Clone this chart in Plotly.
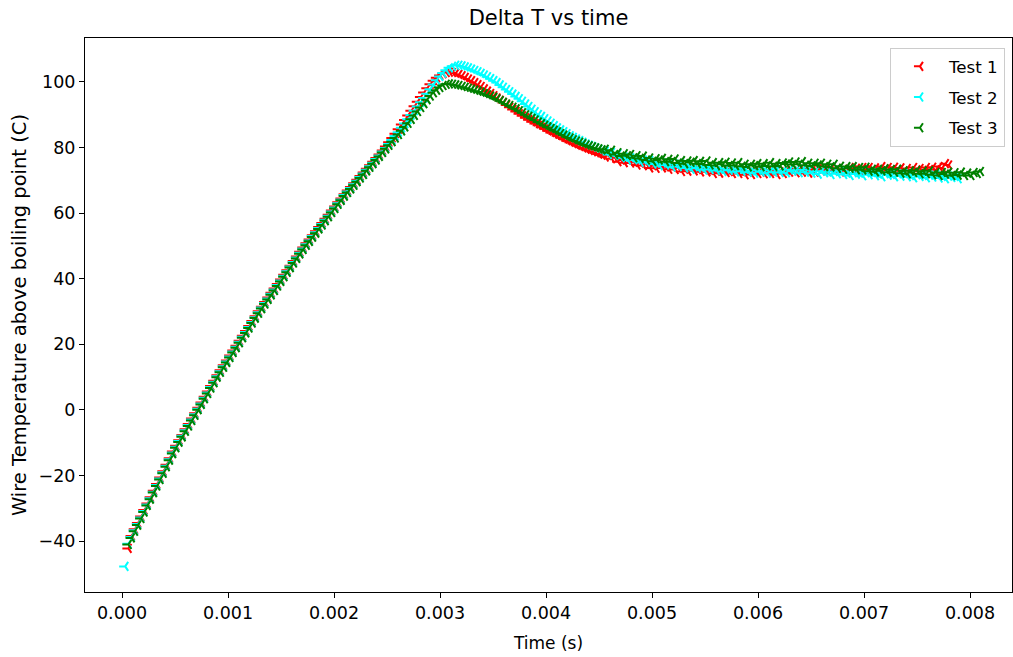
import plotly.graph_objects as go

# ---- data ----
SAMPLE_DT = 0.00003          # s between samples
T1_START = 0.00006           # first sample time, Test 1
T2_START = 0.00003           # first sample time, Test 2
T3_START = 0.00006           # first sample time, Test 3

test1 = [
    -42.2, -38.4, -36.4, -34.5, -32.5, -30.5, -28.5, -26.6, -24.6, -22.6,
    -20.6, -18.7, -16.7, -14.7, -12.7, -10.9, -9.2, -7.6, -5.9, -4.3,
    -2.6, -1.0, 0.7, 2.3, 4.0, 5.6, 7.3, 8.9, 10.6, 12.1,
    13.6, 15.1, 16.6, 18.1, 19.6, 21.1, 22.6, 24.1, 25.6, 27.1,
    28.6, 30.1, 31.5, 32.9, 34.3, 35.7, 37.0, 38.4, 39.8, 41.2,
    42.6, 44.0, 45.4, 46.8, 48.2, 49.5, 50.8, 52.0, 53.3, 54.5,
    55.8, 57.0, 58.3, 59.5, 60.8, 62.0, 63.3, 64.5, 65.8, 66.9,
    68.0, 69.1, 70.2, 71.3, 72.4, 73.5, 74.6, 75.7, 76.8, 77.9,
    79.1, 80.3, 81.6, 82.9, 84.2, 85.6, 87.0, 88.4, 89.8, 91.2,
    92.6, 94.0, 95.4, 96.8, 98.1, 99.3, 100.4, 101.3, 102.0, 102.5,
    102.9, 103.0, 102.9, 102.7, 102.3, 101.9, 101.4, 100.9, 100.4, 99.8,
    99.2, 98.6, 97.9, 97.2, 96.5, 95.8, 95.1, 94.4, 93.7, 93.0,
    92.3, 91.6, 91.0, 90.3, 89.7, 89.1, 88.5, 87.9, 87.3, 86.8,
    86.2, 85.7, 85.1, 84.6, 84.1, 83.6, 83.1, 82.6, 82.1, 81.6,
    81.2, 80.7, 80.3, 79.9, 79.5, 79.1, 78.7, 78.4, 78.0, 77.7,
    77.1, 77.6, 76.6, 76.9, 75.7, 76.2, 75.4, 76.2, 75.3, 75.5,
    74.7, 75.3, 74.5, 74.9, 73.8, 74.5, 73.7, 74.6, 73.8, 74.1,
    73.4, 74.1, 73.3, 73.8, 72.7, 73.4, 72.8, 73.7, 72.9, 73.3,
    72.6, 73.3, 72.6, 73.1, 72.1, 72.8, 72.2, 73.1, 72.4, 72.7,
    72.1, 72.9, 72.1, 72.7, 71.7, 72.5, 71.8, 72.8, 72.1, 72.5,
    72.0, 72.8, 72.1, 72.8, 71.8, 72.6, 72.1, 73.1, 72.5, 72.9,
    72.3, 73.2, 72.5, 73.2, 72.2, 73.0, 72.5, 73.5, 72.9, 73.3,
    72.7, 73.6, 72.9, 73.6, 72.6, 73.4, 72.9, 73.9, 73.2, 73.7,
    73.1, 73.9, 73.3, 73.9, 72.9, 73.8, 73.2, 74.2, 73.5, 73.9,
    73.2, 74.0, 73.3, 73.8, 72.8, 73.6, 72.9, 73.9, 73.2, 73.6,
    73.1, 73.9, 73.3, 74.0, 73.2, 74.2, 73.8, 75.1, 74.7,
]

test2 = [
    -47.7,
    -40.8, -38.7, -36.7, -34.8, -32.8, -30.8, -28.8, -26.9, -24.9, -22.9,
    -20.9, -19.0, -17.0, -15.0, -13.0, -11.2, -9.5, -7.9, -6.2, -4.6,
    -2.9, -1.3, 0.4, 2.0, 3.7, 5.3, 7.0, 8.6, 10.3, 11.8,
    13.3, 14.8, 16.3, 17.8, 19.3, 20.8, 22.3, 23.8, 25.3, 26.8,
    28.3, 29.8, 31.2, 32.6, 34.0, 35.4, 36.7, 38.1, 39.5, 40.9,
    42.3, 43.7, 45.1, 46.5, 47.9, 49.2, 50.5, 51.7, 53.0, 54.2,
    55.5, 56.7, 58.0, 59.2, 60.5, 61.7, 63.0, 64.2, 65.5, 66.6,
    67.7, 68.8, 69.9, 71.0, 72.1, 73.2, 74.3, 75.4, 76.5, 77.6,
    78.8, 79.9, 81.1, 82.3, 83.5, 84.7, 86.0, 87.3, 88.6, 89.9,
    91.2, 92.5, 93.8, 95.1, 96.4, 97.8, 99.2, 100.5, 101.7, 102.7,
    103.6, 104.3, 104.8, 105.1, 105.1, 104.9, 104.6, 104.3, 103.9, 103.5,
    103.1, 102.6, 102.1, 101.6, 101.0, 100.4, 99.8, 99.1, 98.4, 97.7,
    97.0, 96.3, 95.6, 94.9, 94.1, 93.3, 92.5, 91.7, 90.9, 90.1,
    89.5, 88.8, 88.1, 87.4, 86.7, 86.0, 85.4, 84.8, 84.2, 83.6,
    83.1, 82.6, 82.1, 81.6, 81.1, 80.7, 80.3, 79.9, 79.5, 79.1,
    78.9, 77.9, 78.5, 77.6, 78.1, 76.9, 77.1, 76.2, 76.9, 76.3,
    76.4, 75.5, 76.2, 75.5, 76.1, 75.0, 75.3, 74.5, 75.3, 74.7,
    74.9, 74.1, 74.9, 74.2, 74.9, 73.8, 74.2, 73.4, 74.2, 73.7,
    74.0, 73.2, 74.0, 73.3, 74.1, 73.0, 73.4, 72.7, 73.5, 73.1,
    73.3, 72.6, 73.4, 72.8, 73.5, 72.5, 72.9, 72.2, 73.1, 72.6,
    72.9, 72.2, 73.1, 72.5, 73.4, 72.4, 72.9, 72.3, 73.2, 72.8,
    73.1, 72.3, 73.2, 72.5, 73.3, 72.2, 72.7, 71.9, 72.8, 72.3,
    72.6, 71.8, 72.7, 72.0, 72.8, 71.8, 72.2, 71.5, 72.3, 71.9,
    72.2, 71.4, 72.3, 71.7, 72.4, 71.4, 71.9, 71.1, 72.0, 71.6,
    71.8, 71.1, 72.0, 71.3, 72.1, 71.1, 71.5, 70.8, 71.7, 71.2,
    71.5, 70.8, 71.6, 71.0, 71.8, 70.7, 71.2, 70.5, 71.3, 70.9,
    71.2, 70.5,
]

test3 = [
    -41.0, -39.0, -37.0, -35.1, -33.1, -31.1, -29.1, -27.2, -25.2, -23.2,
    -21.2, -19.3, -17.3, -15.3, -13.3, -11.5, -9.8, -8.2, -6.5, -4.9,
    -3.2, -1.6, 0.1, 1.7, 3.4, 5.0, 6.7, 8.3, 10.0, 11.5,
    13.0, 14.5, 16.0, 17.5, 19.0, 20.5, 22.0, 23.5, 25.0, 26.5,
    28.0, 29.5, 30.9, 32.3, 33.7, 35.1, 36.4, 37.8, 39.2, 40.6,
    42.0, 43.4, 44.8, 46.2, 47.6, 48.9, 50.2, 51.4, 52.7, 53.9,
    55.2, 56.4, 57.7, 58.9, 60.2, 61.4, 62.7, 63.9, 65.2, 66.3,
    67.4, 68.5, 69.6, 70.7, 71.8, 72.9, 74.0, 75.1, 76.2, 77.3,
    78.5, 79.6, 80.7, 81.8, 82.9, 84.0, 85.1, 86.3, 87.4, 88.6,
    89.8, 91.0, 92.2, 93.4, 94.6, 95.7, 96.7, 97.5, 98.3, 98.9,
    99.3, 99.4, 99.3, 99.1, 98.9, 98.6, 98.4, 98.1, 97.8, 97.5,
    97.2, 96.9, 96.5, 96.1, 95.7, 95.3, 94.8, 94.3, 93.8, 93.3,
    92.8, 92.3, 91.8, 91.2, 90.6, 90.0, 89.5, 88.9, 88.4, 87.8,
    87.3, 86.8, 86.3, 85.8, 85.3, 84.8, 84.3, 83.8, 83.3, 82.9,
    82.4, 82.0, 81.6, 81.2, 80.8, 80.5, 80.2, 79.9, 79.6, 79.3,
    79.5, 78.5, 79.2, 77.9, 78.4, 77.4, 78.1, 77.5, 77.9, 76.9,
    77.5, 76.7, 77.4, 76.2, 76.8, 75.8, 76.6, 76.2, 76.7, 75.7,
    76.4, 75.7, 76.5, 75.3, 76.0, 75.1, 75.9, 75.5, 76.0, 75.1,
    75.8, 75.0, 75.9, 74.7, 75.4, 74.5, 75.4, 74.9, 75.5, 74.5,
    75.3, 74.5, 75.4, 74.3, 74.9, 74.1, 74.9, 74.5, 75.1, 74.2,
    75.1, 74.4, 75.4, 74.3, 75.1, 74.4, 75.3, 75.0, 75.6, 74.8,
    75.6, 74.9, 75.7, 74.6, 75.2, 74.4, 75.2, 74.7, 75.2, 74.2,
    74.9, 74.1, 74.9, 73.7, 74.3, 73.4, 74.2, 73.7, 74.2, 73.2,
    73.9, 73.2, 74.0, 72.8, 73.4, 72.6, 73.4, 72.9, 73.5, 72.5,
    73.3, 72.5, 73.4, 72.2, 72.9, 72.0, 72.9, 72.4, 73.0, 72.0,
    72.8, 72.0, 72.9, 71.7, 72.4, 71.5, 72.4, 71.9, 72.5, 71.5,
    72.3, 71.6, 72.5, 71.5, 72.2, 71.5, 72.4, 72.1, 72.7,
]

series_names = ["Test 1", "Test 2", "Test 3"]
series_colors = ["#ff0000", "#00ffff", "#008000"]

x_ticks = [0.000, 0.001, 0.002, 0.003, 0.004, 0.005, 0.006, 0.007, 0.008]
x_tick_labels = ["0.000", "0.001", "0.002", "0.003", "0.004", "0.005", "0.006", "0.007", "0.008"]
y_ticks = [-40, -20, 0, 20, 40, 60, 80, 100]
y_tick_labels = ["\u221240", "\u221220", "0", "20", "40", "60", "80", "100"]

FONT = "DejaVu Sans"

fig = go.Figure()
for i, (name, vals, color, t0) in enumerate(zip(series_names, [test1, test2, test3],
                                                series_colors,
                                                [T1_START, T2_START, T3_START])):
    fig.add_trace(go.Scatter(
        x0=t0, dx=SAMPLE_DT, y=vals, mode="markers", name=name,
        legendgroup="g%d" % i,
        marker=dict(symbol="y-left", size=7.5, color=color,
                    line=dict(color=color, width=2)),
    ))

axis_common = dict(showline=True, mirror=True, linecolor="black", linewidth=1,
                   ticks="outside", ticklen=5, tickwidth=1, tickcolor="black",
                   showgrid=False, zeroline=False,
                   tickfont=dict(family=FONT, size=17.5, color="black"))

fig.update_layout(
    width=1013, height=657,
    margin=dict(l=85, r=1, t=38, b=65),
    paper_bgcolor="white", plot_bgcolor="white",
    title=dict(text="Delta T vs time", x=0.5, xref="paper", y=1 - 18 / 657,
               yref="container", yanchor="middle", xanchor="center",
               font=dict(family=FONT, size=21, color="black")),
    xaxis=dict(range=[-0.000349, 0.008396], tickvals=x_ticks, ticktext=x_tick_labels,
               title=dict(text="Time (s)", standoff=15,
                          font=dict(family=FONT, size=17, color="black")),
               **axis_common),
    yaxis=dict(range=[-55.5, 113.4], tickvals=y_ticks, ticktext=y_tick_labels,
               title=dict(text="Wire Temperature above boiling point (C)", standoff=6,
                          font=dict(family=FONT, size=19.5, color="black")),
               **axis_common),
    legend=dict(x=0.9924, y=0.982, xanchor="right", yanchor="top",
                bgcolor="rgba(255,255,255,0.8)", bordercolor="#cccccc", borderwidth=1,
                font=dict(family=FONT, size=16.7, color="black"),
                tracegroupgap=6, itemwidth=48),
    showlegend=True,
)

fig.write_html("out.html")
